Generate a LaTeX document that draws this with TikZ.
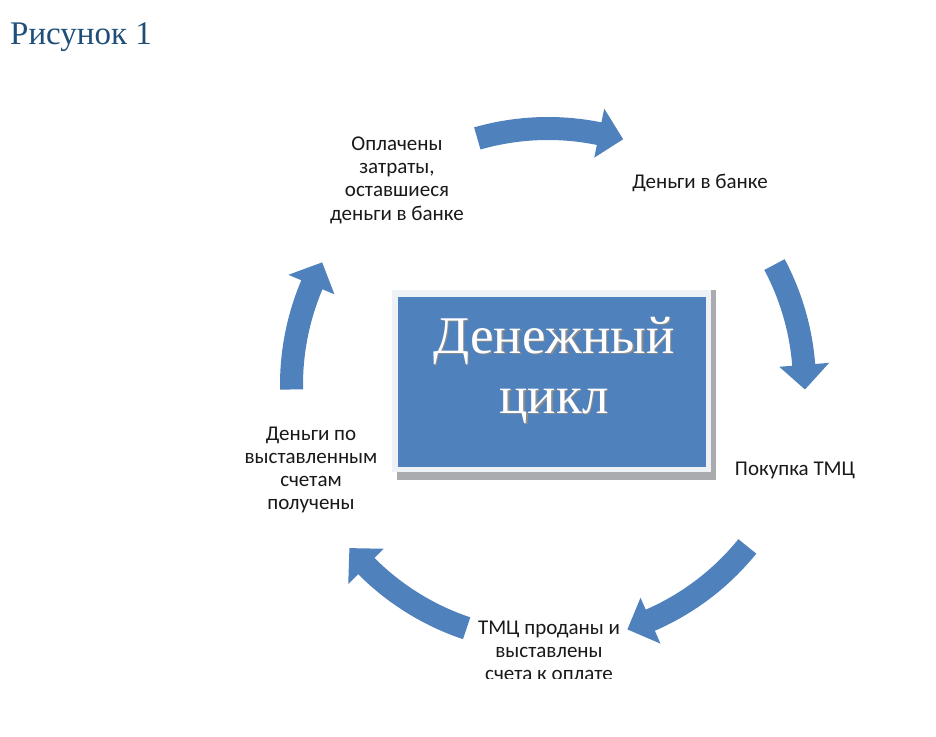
\documentclass[tikz,border=0pt]{standalone}
\usepackage{fontspec}
\setmainfont{Liberation Serif}
\newfontfamily\labfont{Carlito}
\usetikzlibrary{calc}
\definecolor{cblue}{HTML}{4F81BD}
\definecolor{tblue}{HTML}{1F4E79}
\definecolor{framecol}{HTML}{EEF2F7}
\definecolor{shadowcol}{HTML}{A9ABAE}
\tikzset{
  lbl/.style={font=\labfont\fontsize{21}{23.3}\selectfont, align=center, text=black!90, inner sep=0pt},
  bigtext/.style={font=\fontsize{53}{60}\selectfont, align=center, text=white, inner sep=0pt}
}
\newcommand{\cycarrow}[2]{%
  \pgfmathsetmacro\hb{#2+5.5}%
  \fill[cblue] (#1:268) arc[start angle=#1,end angle=\hb,radius=268]
    -- (\hb:282) -- (#2:257) -- (\hb:232) -- (\hb:245)
    arc[start angle=\hb,end angle=#1,radius=245] -- cycle;}
\begin{document}
\begin{tikzpicture}[x=1pt,y=1pt]
\useasboundingbox (0,0) rectangle (936,736);
\fill[white] (0,0) rectangle (936,736);
% title
\node[anchor=base west, font=\fontsize{33}{33}\selectfont, text=tblue, inner sep=0pt] (title) at (10,691) {Рисунок 1};
% arrows
\begin{scope}[shift={(548,351)}]
  \cycarrow{106}{73}
  \cycarrow{28}{-1}
  \cycarrow{-39}{-72}
  \cycarrow{-108.5}{-140.6}
  \cycarrow{181}{151.5}
\end{scope}
% central box
\fill[shadowcol] (397,256) rectangle (716,446);
\fill[framecol] (392,264) rectangle (711,446);
\node[fill=cblue, minimum width=308pt, minimum height=170pt, inner sep=0pt] (box) at (552,354) {};
\node[bigtext, text=black!45] at (555.5,364.5) {Денежный\\цикл};
\node[bigtext] (boxtext) at (554,366) {Денежный\\цикл};
% labels
\node[lbl] (costs) at (397,556) {Оплачены\\затраты,\\оставшиеся\\деньги в банке};
\node[lbl] (bank) at (700,553) {Деньги в банке};
\node[lbl] (buy) at (795,266) {Покупка ТМЦ};
\begin{scope}
  \clip (440,58) rectangle (660,130);
  \node[lbl] (sold) at (549,85) {ТМЦ проданы и\\выставлены\\счета к оплате};
\end{scope}
\node[lbl] (recv) at (311,266) {Деньги по\\выставленным\\счетам\\получены};
\end{tikzpicture}
\end{document}
